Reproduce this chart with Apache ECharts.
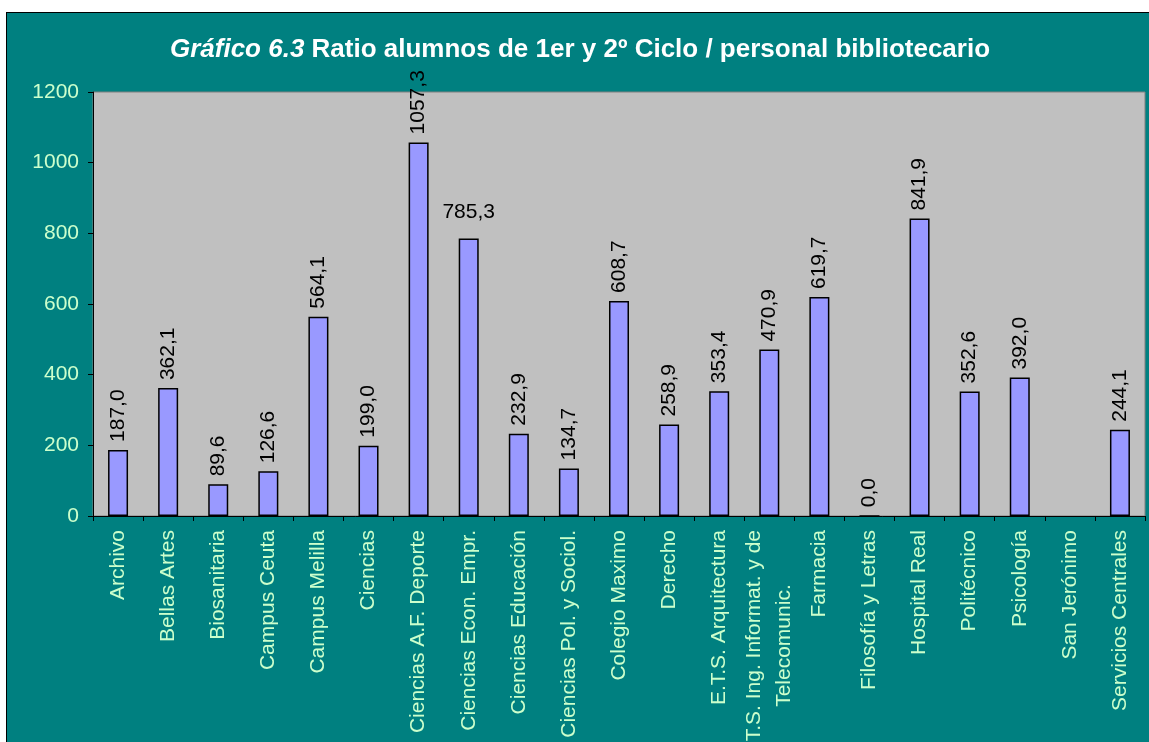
<!DOCTYPE html>
<html>
<head>
<meta charset="utf-8">
<script src="https://cdn.jsdelivr.net/npm/echarts@6/dist/echarts.min.js"></script>
<style>
    body {
        margin: 0;
        background-color: #fff;
        overflow: hidden;
    }

    #main {
        position: absolute;
        left: 6px;
        top: 12px;
        width: 1160px;
        height: 740px;
        border-left: 1px solid #000;
        border-top: 1px solid #000;
        background-color: #008080;
    }
</style>
</head>
<body>
<div id="main"></div>
<script>
// centros / servicios
const centros = [
    'Archivo', 'Bellas Artes', 'Biosanitaria', 'Campus Ceuta', 'Campus Melilla',
    'Ciencias', 'Ciencias A.F. Deporte', 'Ciencias Econ. Empr.', 'Ciencias Educación',
    'Ciencias Pol. y Sociol.', 'Colegio Maximo', 'Derecho', 'E.T.S. Arquitectura',
    'E.T.S. Ing. Informat. y de\nTelecomunic.', 'Farmacia', 'Filosofía y Letras',
    'Hospital Real', 'Politécnico', 'Psicología', 'San Jerónimo', 'Servicios Centrales'
]

// ratio alumnos / personal
const ratios = [
    187.0, 362.1, 89.6, 126.6, 564.1, 199.0, 1057.3, 785.3, 232.9, 134.7,
    608.7, 258.9, 353.4, 470.9, 619.7, 0.0, 841.9, 352.6, 392.0, null, 244.1
]

// etiqueta horizontal en vez de vertical
const horizontales = ['Ciencias Econ. Empr.']

const yTicks = [0, 200, 400, 600, 800, 1000, 1200]

const fmt = v => v.toFixed(1).replace('.', ',')

const chart = echarts.init(document.getElementById('main'))

chart.setOption({
    animation: false,
    textStyle: {
        fontFamily: 'Liberation Sans, Arial, sans-serif'
    },
    title: {
        text: '{i|Gráfico 6.3} Ratio alumnos de 1er y 2º Ciclo / personal bibliotecario',
        left: 568,
        top: 19,
        textAlign: 'center',
        textStyle: {
            color: '#fff',
            fontSize: 26,
            fontWeight: 'bold',
            rich: {
                i: {
                    color: '#fff',
                    fontSize: 26,
                    fontWeight: 'bold',
                    fontStyle: 'italic'
                }
            }
        }
    },
    grid: {
        left: 86,
        top: 79,
        width: 1052,
        height: 424,
        outerBoundsMode: 'none',
        containLabel: false,
        show: true,
        backgroundColor: '#c0c0c0',
        borderColor: '#808080',
        borderWidth: 1
    },
    xAxis: {
        type: 'category',
        data: centros,
        axisLine: { lineStyle: { color: '#000', width: 1 } },
        axisTick: { show: true, length: 5, lineStyle: { color: '#000' } },
        axisLabel: {
            interval: 0,
            rotate: 90,
            margin: 14,
            color: '#ccffcc',
            fontSize: 21,
            lineHeight: 30,
            formatter: v => {
                const parts = v.split('\n')
                if (parts.length === 1) return v
                return parts[0] + '\n{c|' + parts[1] + '}'
            },
            rich: {
                c: {
                    color: '#ccffcc',
                    fontSize: 21,
                    lineHeight: 30,
                    align: 'center'
                }
            }
        }
    },
    yAxis: {
        type: 'value',
        min: yTicks[0],
        max: yTicks[yTicks.length - 1],
        interval: 200,
        axisLine: { show: true, lineStyle: { color: '#000', width: 1 } },
        axisTick: { show: true, length: 5, lineStyle: { color: '#000' } },
        splitLine: { show: false },
        axisLabel: {
            margin: 14,
            color: '#ccffcc',
            fontSize: 21,
            formatter: v => String(v)
        }
    },
    series: [
        {
            type: 'bar',
            barWidth: 20,
            data: ratios.map((v, i) => {
                const horiz = horizontales.includes(centros[i])
                return {
                    value: v,
                    label: horiz
                        ? { rotate: 0, align: 'center', verticalAlign: 'bottom', distance: 16 }
                        : {}
                }
            }),
            itemStyle: {
                color: '#9999ff',
                borderColor: '#000',
                borderWidth: 1.5
            },
            label: {
                show: true,
                position: 'top',
                rotate: 90,
                align: 'left',
                verticalAlign: 'middle',
                distance: 8,
                color: '#000',
                fontSize: 21,
                formatter: p => p.value == null ? '' : fmt(p.value)
            }
        }
    ]
})
</script>
</body>
</html>
